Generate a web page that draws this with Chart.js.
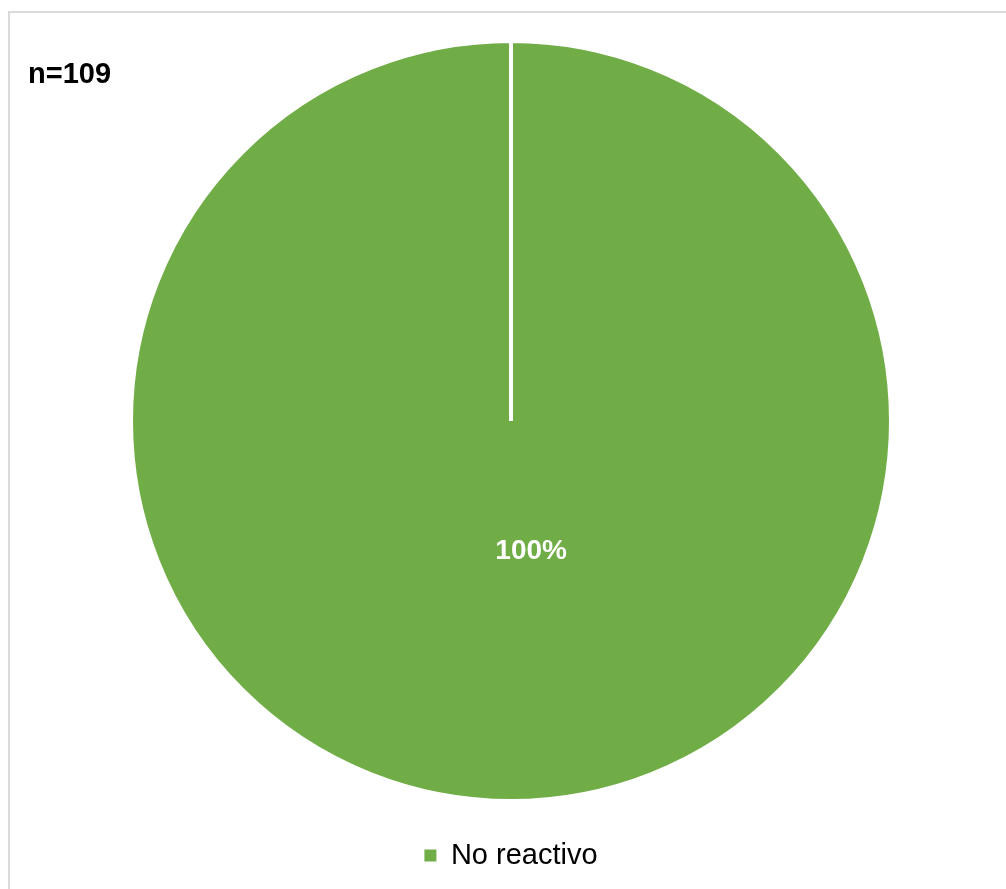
<!DOCTYPE html>
<html>
<head>
<meta charset="utf-8">
<script src="https://cdn.jsdelivr.net/npm/chart.js@4.4.1/dist/chart.umd.min.js"></script>
<style>
  html, body { margin: 0; padding: 0; background: #ffffff; overflow: hidden; width: 1006px; height: 889px; }
  #frame { position: absolute; left: 8px; top: 11px; width: 1100px; height: 1000px; border: 2px solid #d9d9d9; box-sizing: border-box; }
  #chart { position: absolute; left: 0; top: 0; }
</style>
</head>
<body>
<div id="frame"></div>
<canvas id="chart" width="1006" height="889"></canvas>
<script>
// Resultados de la prueba
const categories = ['No reactivo'];
const counts = [109];
const sliceColors = ['#70AD47'];
const sampleSize = 109;

const FONT = '"Liberation Sans", Arial, sans-serif';

// Porcentaje dentro de cada sector y la anotación n= en la esquina
const annotations = {
  id: 'annotations',
  afterDatasetsDraw(chart) {
    const { ctx } = chart;
    const meta = chart.getDatasetMeta(0);
    const data = chart.data.datasets[0].data;
    const total = data.reduce((a, b) => a + b, 0);
    ctx.save();
    ctx.fillStyle = '#ffffff';
    ctx.font = 'bold 28px ' + FONT;
    ctx.textAlign = 'center';
    ctx.textBaseline = 'middle';
    meta.data.forEach((arc, i) => {
      const pct = Math.round(data[i] / total * 100) + '%';
      const r = arc.outerRadius;
      let x, y;
      if (data[i] === total) {
        x = arc.x + 0.053 * r;
        y = arc.y + 0.344 * r;
      } else {
        const p = arc.tooltipPosition();
        x = p.x; y = p.y;
      }
      ctx.fillText(pct, x, y);
    });
    ctx.fillStyle = '#000000';
    ctx.font = 'bold 29px ' + FONT;
    ctx.textAlign = 'left';
    ctx.textBaseline = 'alphabetic';
    ctx.fillText('n=' + sampleSize, 28, 83);
    ctx.restore();
  }
};

new Chart(document.getElementById('chart'), {
  type: 'pie',
  data: {
    labels: categories,
    datasets: [{
      data: counts,
      backgroundColor: sliceColors,
      borderColor: '#ffffff',
      borderWidth: 4
    }]
  },
  options: {
    responsive: false,
    animation: false,
    layout: { padding: { left: 129, right: 113, top: 21, bottom: 9 } },
    plugins: {
      tooltip: { enabled: false },
      legend: {
        position: 'bottom',
        labels: {
          color: '#000000',
          font: { family: FONT, size: 29 },
          boxWidth: 12,
          boxHeight: 12,
          padding: 20,
          // solid legend squares without the slice outline
          generateLabels(chart) {
            const items = Chart.overrides.pie.plugins.legend.labels.generateLabels(chart);
            items.forEach(it => { it.lineWidth = 0; it.strokeStyle = it.fillStyle; });
            return items;
          }
        }
      }
    }
  },
  plugins: [annotations]
});
</script>
</body>
</html>
